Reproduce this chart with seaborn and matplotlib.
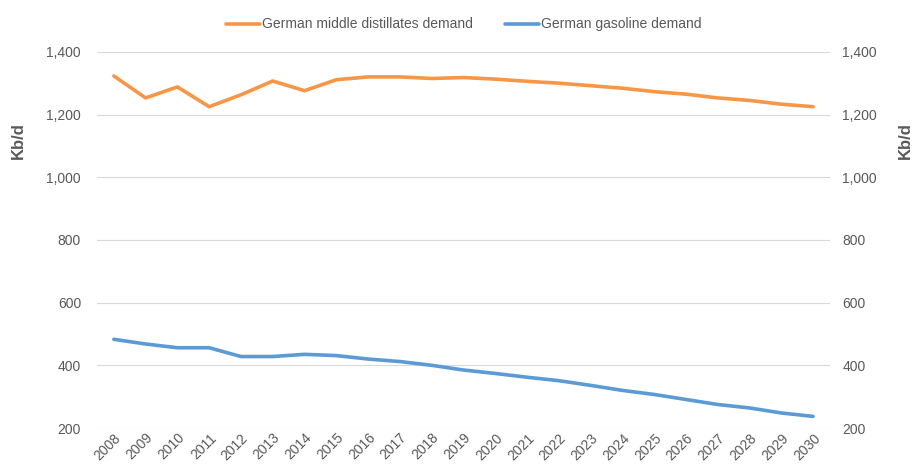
import pandas as pd
import matplotlib.pyplot as plt
import seaborn as sns

years = list(range(2008, 2031))
middle_distillates = [1323, 1253, 1288, 1225, 1263, 1307, 1276, 1311, 1320, 1320,
                      1315, 1318, 1313, 1306, 1300, 1292, 1284, 1273, 1265, 1253,
                      1245, 1233, 1225]
gasoline = [483, 468, 456, 456, 428, 428, 435, 431, 420, 412, 400, 385, 374, 362,
            351, 336, 320, 307, 291, 275, 264, 248, 237]
series_names = ["German middle distillates demand", "German gasoline demand"]
y_ticks = [200, 400, 600, 800, 1000, 1200, 1400]

df = pd.DataFrame({"Year": years * 2,
                   "Demand": middle_distillates + gasoline,
                   "Series": [series_names[0]] * len(years) + [series_names[1]] * len(years)})

sns.set_style("white")
plt.rcParams['font.family'] = ['Liberation Sans', 'DejaVu Sans']
grey = "#595959"

fig = plt.figure(figsize=(9.15, 4.67), dpi=100)
ax = fig.add_axes([0.106, 0.0835, 0.801, 0.8055])
sns.lineplot(data=df, x="Year", y="Demand", hue="Series", ax=ax,
             palette=["#F79646", "#5B9BD5"], linewidth=2.6, legend=True)

ax.set_xlim(years[0] - 0.53, years[-1] + 0.53)
ax.set_ylim(200, 1400)
ax.set_yticks(y_ticks)
ax.set_yticklabels([f"{v:,}" for v in y_ticks], color=grey, fontsize=10)
ax.set_xticks(years)
ax.set_xticklabels([str(y) for y in years], rotation=45, color=grey, fontsize=10,
                   ha="right", rotation_mode="anchor")
ax.tick_params(axis="x", pad=2, length=0)
ax.tick_params(axis="y", pad=11.5, length=0)
ax.grid(axis="y", color="#d9d9d9", linewidth=0.8)
ax.set_axisbelow(True)
for s in ax.spines.values():
    s.set_visible(False)
ax.set_xlabel("")
ax.set_ylabel("")

ax2 = ax.twinx()
ax2.set_ylim(200, 1400)
ax2.set_yticks(y_ticks)
ax2.set_yticklabels([f"{v:,}" for v in y_ticks], color=grey, fontsize=10)
ax2.tick_params(axis="y", pad=9, length=0)
for s in ax2.spines.values():
    s.set_visible(False)

# axis titles sit high, as in the original chart
fig.text(18 / 915, 1 - 141 / 467, "Kb/d", color=grey, fontsize=12, fontweight="bold",
         rotation=90, ha="center", va="center")
fig.text(905 / 915, 1 - 141 / 467, "Kb/d", color=grey, fontsize=12, fontweight="bold",
         rotation=90, ha="center", va="center")

leg = ax.legend(loc="center", bbox_to_anchor=(0.5, 1.073), ncol=2, frameon=False,
                fontsize=10, handlelength=2.5, handletextpad=0.1, columnspacing=2.3)
for t in leg.get_texts():
    t.set_color(grey)

fig.savefig("out.png", dpi=100)
